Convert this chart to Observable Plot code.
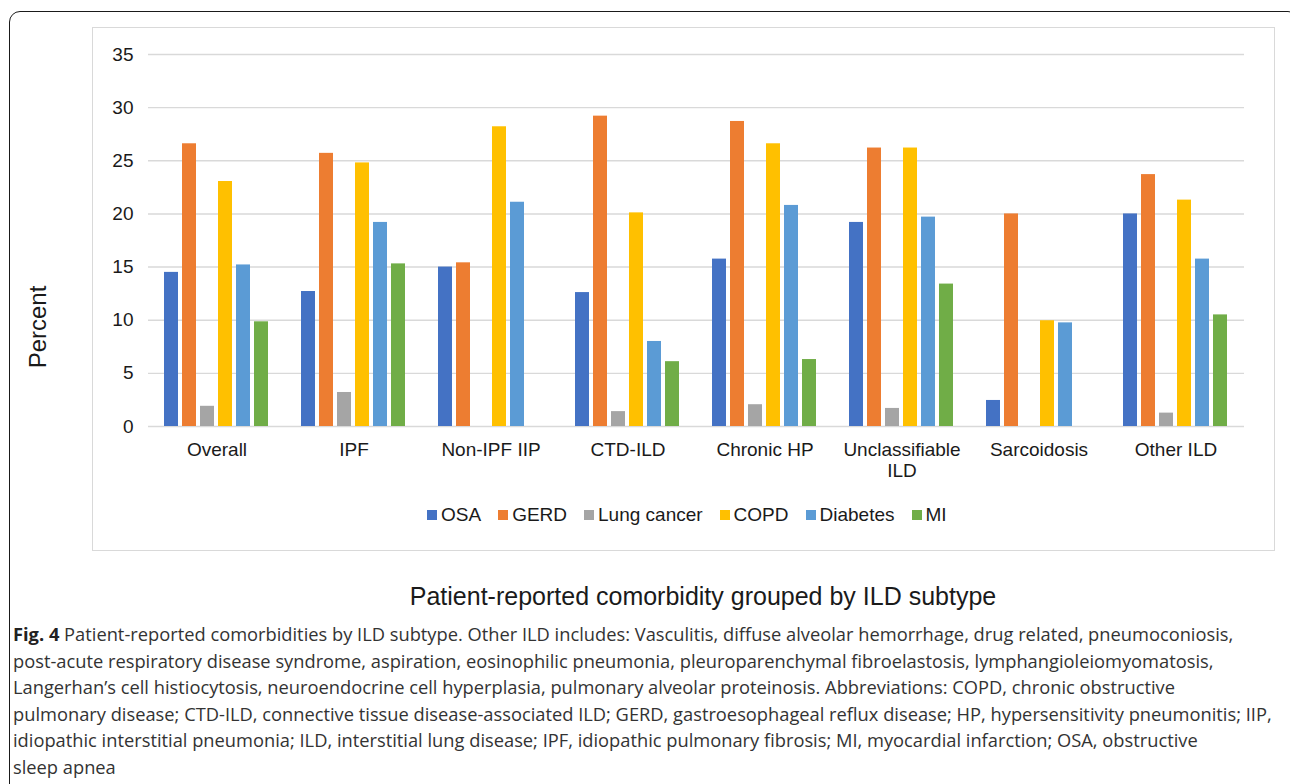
<!DOCTYPE html>
<html>
<head>
<meta charset="utf-8">
<script src="https://cdn.jsdelivr.net/npm/d3@7"></script>
<script src="https://cdn.jsdelivr.net/npm/@observablehq/plot@0.6"></script>
<style>
  html, body { margin: 0; padding: 0; background: #fff; overflow: hidden; }
  #page { position: relative; width: 1290px; height: 784px; overflow: hidden; }
  #outer { position: absolute; left: 9px; top: 11px; width: 1290px; height: 820px;
           border: 1.6px solid #1a1a1a; border-radius: 11px; box-sizing: border-box; }
  #inner { position: absolute; left: 92px; top: 27px; width: 1183px; height: 524px;
           border: 1.4px solid #d9d9d9; box-sizing: border-box; }
  #chart { position: absolute; left: 0; top: 27px; }
  #ylabel { position: absolute; left: 38px; top: 327px; transform: translate(-50%, -50%) rotate(-90deg);
            font: 24px "Liberation Sans", Arial, sans-serif; color: #1a1a1a; white-space: nowrap; }
  #legend { position: absolute; left: 427px; top: 504px; display: flex; align-items: center;
            font: 19px "Liberation Sans", Arial, sans-serif; color: #1a1a1a; white-space: nowrap; }
  #legend .item { display: flex; align-items: center; margin-right: 17px; }
  #legend .sw { width: 10px; height: 10px; margin-right: 4px; }
  #title { position: absolute; left: 703px; top: 582px; transform: translateX(-50%);
           font: 25px "Liberation Sans", Arial, sans-serif; color: #1a1a1a; white-space: nowrap; }
  #caption { position: absolute; left: 13px; top: 621px; font: 18.3px "Open Sans", "Noto Sans", sans-serif;
             line-height: 26.6px; color: #333; white-space: nowrap; }
  #caption b { color: #222; }
</style>
</head>
<body>
<div id="page">
  <div id="outer"></div>
  <div id="inner"></div>
  <div id="chart"></div>
  <div id="ylabel">Percent</div>
  <div id="legend"></div>
  <div id="title">Patient-reported comorbidity grouped by ILD subtype</div>
  <div id="caption">
    <div><b>Fig. 4</b> Patient-reported comorbidities by ILD subtype. Other ILD includes: Vasculitis, diffuse alveolar hemorrhage, drug related, pneumoconiosis,</div>
    <div>post-acute respiratory disease syndrome, aspiration, eosinophilic pneumonia, pleuroparenchymal fibroelastosis, lymphangioleiomyomatosis,</div>
    <div>Langerhan’s cell histiocytosis, neuroendocrine cell hyperplasia, pulmonary alveolar proteinosis. Abbreviations: COPD, chronic obstructive</div>
    <div>pulmonary disease; CTD-ILD, connective tissue disease-associated ILD; GERD, gastroesophageal reflux disease; HP, hypersensitivity pneumonitis; IIP,</div>
    <div>idiopathic interstitial pneumonia; ILD, interstitial lung disease; IPF, idiopathic pulmonary fibrosis; MI, myocardial infarction; OSA, obstructive</div>
    <div>sleep apnea</div>
  </div>
</div>
<script>
const categories = ["Overall", "IPF", "Non-IPF IIP", "CTD-ILD", "Chronic HP", "Unclassifiable ILD", "Sarcoidosis", "Other ILD"];
const seriesNames = ["OSA", "GERD", "Lung cancer", "COPD", "Diabetes", "MI"];
const seriesColors = ["#4472C4", "#ED7D31", "#A5A5A5", "#FFC000", "#5B9BD5", "#70AD47"];

const OSA        = [14.5, 12.7, 15.0, 12.6, 15.75, 19.2, 2.45, 20.0];
const GERD       = [26.6, 25.7, 15.4, 29.2, 28.7, 26.2, 20.0, 23.7];
const LungCancer = [1.9, 3.2, 0, 1.4, 2.05, 1.7, 0, 1.26];
const COPD       = [23.05, 24.8, 28.2, 20.1, 26.6, 26.2, 9.95, 21.3];
const Diabetes   = [15.2, 19.2, 21.1, 8.0, 20.8, 19.7, 9.75, 15.75];
const MI         = [9.85, 15.3, 0, 6.1, 6.3, 13.4, 0, 10.5];

const yTicks = [0, 5, 10, 15, 20, 25, 30, 35];

const seriesValues = [OSA, GERD, LungCancer, COPD, Diabetes, MI];
const rows = [];
categories.forEach((c, i) => {
  seriesNames.forEach((s, j) => {
    rows.push({category: c, series: s, value: seriesValues[j][i]});
  });
});

const chart = Plot.plot({
  width: 1290,
  height: 464,
  marginLeft: 144,
  marginRight: 43,
  marginTop: 27,
  marginBottom: 65,
  style: {background: "transparent", fontFamily: "'Liberation Sans', Arial, sans-serif", fontSize: "19px", color: "#1a1a1a"},
  fx: {domain: categories, padding: 0, label: null},
  x: {domain: seriesNames, paddingInner: 0.2, paddingOuter: 0.85, axis: null},
  y: {domain: [0, 35], label: null},
  color: {domain: seriesNames, range: seriesColors},
  marks: [
    Plot.gridY(yTicks, {stroke: "#d9d9d9", strokeOpacity: 1, strokeWidth: 1.4}),
    Plot.barY(rows, {fx: "category", x: "series", y: "value", fill: "series"}),
    Plot.axisY(yTicks, {tickSize: 0, tickPadding: 15, label: null, fontSize: 19}),
    Plot.axisFx({anchor: "bottom", tickSize: 0, tickPadding: 15, label: null, fontSize: 19, lineHeight: 1.1,
      tickFormat: d => d === "Unclassifiable ILD" ? "Unclassifiable\nILD" : d})
  ]
});
document.getElementById("chart").appendChild(chart);

const legend = document.getElementById("legend");
seriesNames.forEach((s, j) => {
  const item = document.createElement("div");
  item.className = "item";
  const sw = document.createElement("div");
  sw.className = "sw";
  sw.style.background = seriesColors[j];
  const t = document.createElement("span");
  t.textContent = s;
  item.appendChild(sw);
  item.appendChild(t);
  legend.appendChild(item);
});
</script>
</body>
</html>
